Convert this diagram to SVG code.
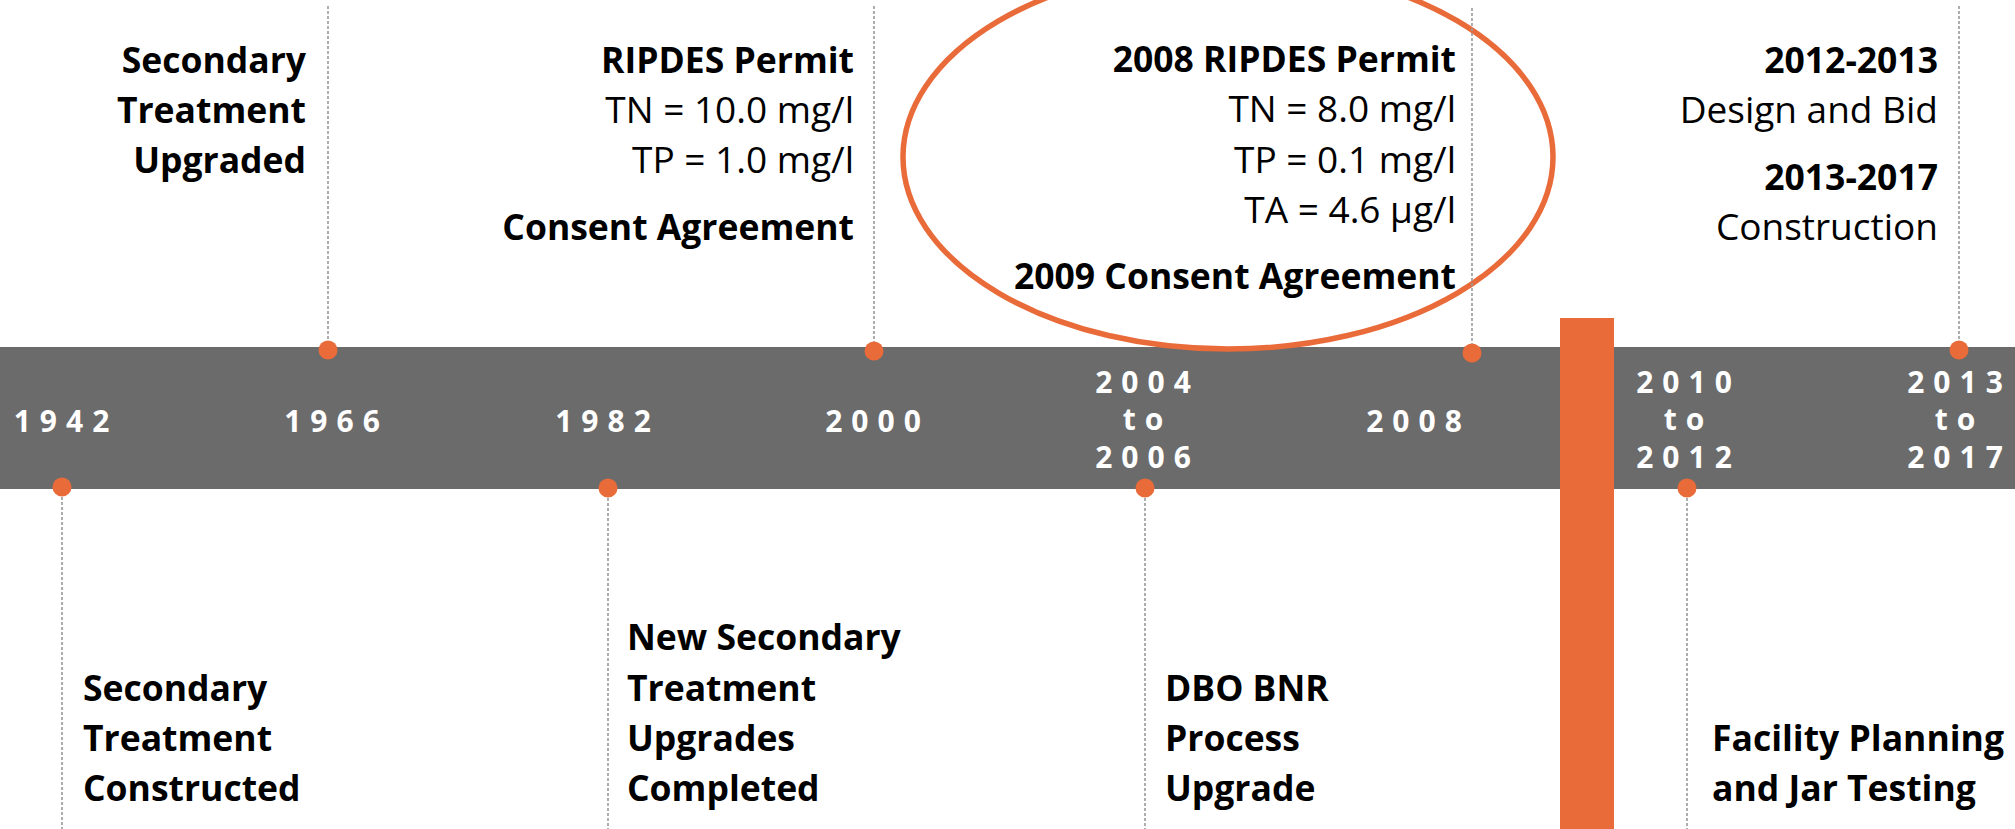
<svg xmlns="http://www.w3.org/2000/svg" width="2015" height="829" viewBox="0 0 2015 829">
  <style>
    .t { font-family: "Open Sans", "Liberation Sans", sans-serif; font-size: 37px; fill: #000; }
    .b { font-weight: bold; font-size: 35.5px; }
    .r { font-weight: normal; }
    .end { text-anchor: end; }
    .yr { font-family: "Open Sans", "Liberation Sans", sans-serif; font-size: 30px; font-weight: bold; fill: #fff; text-anchor: middle; letter-spacing: 9px; }
    .dash { stroke: #9a9a9a; stroke-width: 1.6; stroke-dasharray: 3 2; fill: none; }
    .dot { fill: #ea6b3a; }
  </style>
  <rect x="0" y="0" width="2015" height="829" fill="#ffffff"/>

  <!-- timeline bar -->
  <rect id="bar" x="0" y="347" width="2015" height="142" fill="#6b6b6b"/>

  <!-- highlight ellipse -->
  <ellipse id="highlight" cx="1228" cy="157" rx="325" ry="192" fill="none" stroke="#ea6b3a" stroke-width="5.5"/>

  <!-- orange divider -->
  <rect id="divider" x="1560" y="318" width="54" height="511" fill="#ea6b3a"/>

  <!-- connectors -->
  <g id="connectors">
    <line class="dash" x1="328" y1="6" x2="328" y2="350"/>
    <line class="dash" x1="874" y1="6" x2="874" y2="351"/>
    <line class="dash" x1="1472" y1="8" x2="1472" y2="353"/>
    <line class="dash" x1="1959" y1="6" x2="1959" y2="350"/>
    <line class="dash" x1="62" y1="487" x2="62" y2="829"/>
    <line class="dash" x1="608" y1="488" x2="608" y2="829"/>
    <line class="dash" x1="1145" y1="488" x2="1145" y2="829"/>
    <line class="dash" x1="1687" y1="488" x2="1687" y2="829"/>
    <circle class="dot" cx="328" cy="350" r="9.5"/>
    <circle class="dot" cx="874" cy="351" r="9.5"/>
    <circle class="dot" cx="1472" cy="353" r="9.5"/>
    <circle class="dot" cx="1959" cy="350" r="9.5"/>
    <circle class="dot" cx="62" cy="487" r="9.5"/>
    <circle class="dot" cx="608" cy="488" r="9.5"/>
    <circle class="dot" cx="1145" cy="488" r="9.5"/>
    <circle class="dot" cx="1687" cy="488" r="9.5"/>
  </g>

  <!-- year labels -->
  <g id="years">
    <text class="yr" x="66" y="432">1942</text>
    <text class="yr" x="336.5" y="432">1966</text>
    <text class="yr" x="607.5" y="432">1982</text>
    <text class="yr" x="877.5" y="432">2000</text>
    <text class="yr" x="1147.5" y="393">2004</text>
    <text class="yr" x="1147.5" y="430">to</text>
    <text class="yr" x="1147.5" y="468">2006</text>
    <text class="yr" x="1418.5" y="432">2008</text>
    <text class="yr" x="1688.5" y="393">2010</text>
    <text class="yr" x="1688.5" y="430">to</text>
    <text class="yr" x="1688.5" y="468">2012</text>
    <text class="yr" x="1959.5" y="393">2013</text>
    <text class="yr" x="1959.5" y="430">to</text>
    <text class="yr" x="1959.5" y="468">2017</text>
  </g>

  <!-- top events -->
  <g id="event-1966">
    <text class="t b end" x="306" y="73">Secondary</text>
    <text class="t b end" x="306" y="123">Treatment</text>
    <text class="t b end" x="306" y="173">Upgraded</text>
  </g>
  <g id="event-2000">
    <text class="t b end" x="854" y="73">RIPDES Permit</text>
    <text class="t r end" x="854" y="123">TN = 10.0 mg/l</text>
    <text class="t r end" x="854" y="173">TP = 1.0 mg/l</text>
    <text class="t b end" x="854" y="240">Consent Agreement</text>
  </g>
  <g id="event-2008">
    <text class="t b end" x="1456" y="72">2008 RIPDES Permit</text>
    <text class="t r end" x="1456" y="122">TN = 8.0 mg/l</text>
    <text class="t r end" x="1456" y="173">TP = 0.1 mg/l</text>
    <text class="t r end" x="1456" y="223">TA = 4.6 µg/l</text>
    <text class="t b end" x="1456" y="289">2009 Consent Agreement</text>
  </g>
  <g id="event-2013">
    <text class="t b end" x="1938" y="73">2012-2013</text>
    <text class="t r end" x="1938" y="123">Design and Bid</text>
    <text class="t b end" x="1938" y="190">2013-2017</text>
    <text class="t r end" x="1938" y="240">Construction</text>
  </g>

  <!-- bottom events -->
  <g id="event-1942">
    <text class="t b" x="83" y="701">Secondary</text>
    <text class="t b" x="83" y="751">Treatment</text>
    <text class="t b" x="83" y="801">Constructed</text>
  </g>
  <g id="event-1982">
    <text class="t b" x="627" y="650">New Secondary</text>
    <text class="t b" x="627" y="701">Treatment</text>
    <text class="t b" x="627" y="751">Upgrades</text>
    <text class="t b" x="627" y="801">Completed</text>
  </g>
  <g id="event-2004">
    <text class="t b" x="1165" y="701">DBO BNR</text>
    <text class="t b" x="1165" y="751">Process</text>
    <text class="t b" x="1165" y="801">Upgrade</text>
  </g>
  <g id="event-2010">
    <text class="t b" x="1712" y="751">Facility Planning</text>
    <text class="t b" x="1712" y="801">and Jar Testing</text>
  </g>
</svg>
